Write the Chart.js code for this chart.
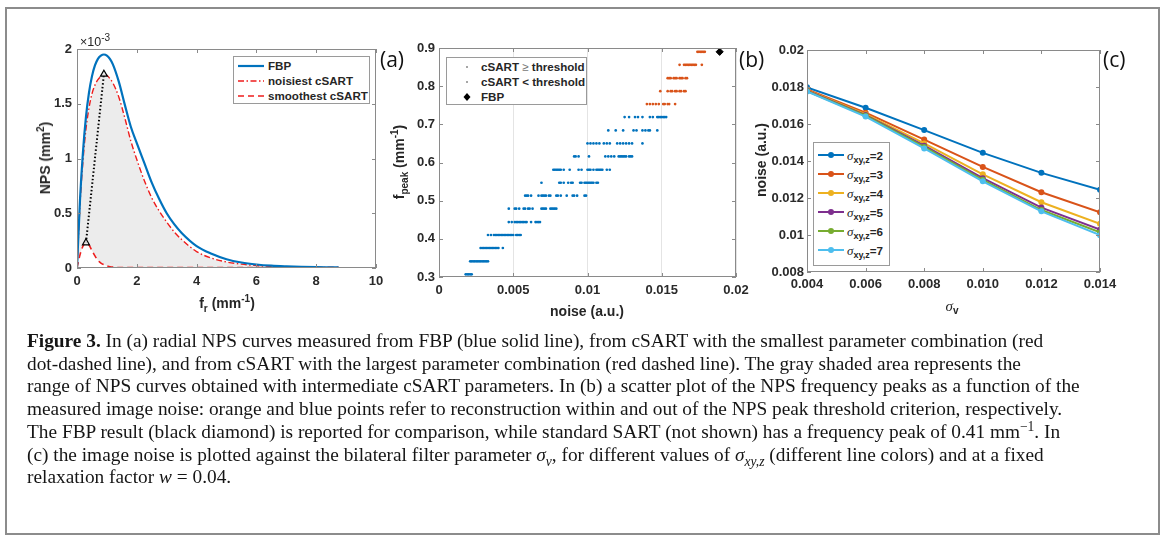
<!DOCTYPE html>
<html>
<head>
<meta charset="utf-8">
<script src="https://cdn.jsdelivr.net/npm/chart.js@4.4.1/dist/chart.umd.min.js"></script>
<style>
html,body{margin:0;padding:0;background:#fff;}
#wrap{position:relative;width:1169px;height:538px;overflow:hidden;background:#fff;}
canvas{position:absolute;left:0;top:0;}
#frame{position:absolute;left:5px;top:7px;width:1155px;height:528px;border:2px solid #8c8c8c;box-sizing:border-box;}
.ax{position:absolute;font-family:"Liberation Sans",Arial,sans-serif;font-weight:bold;font-size:14px;color:#262626;white-space:nowrap;transform:translate(-50%,-50%);line-height:1;}
.ax.rot{transform:translate(-50%,-50%) rotate(-90deg);}
.ax sub,.ax sup{font-size:10px;line-height:0;}
.sig{font-family:"Liberation Serif","Times New Roman",serif;font-style:italic;font-weight:normal;}
.plab{position:absolute;font-family:"Open Sans",sans-serif;font-size:21px;color:#111;line-height:1;transform:translateY(-50%);}
.leg{position:absolute;background:#fff;border:1px solid #9a9a9a;box-sizing:border-box;}
.leg svg{position:absolute;left:0;top:0;}
.lt{position:absolute;font-family:"Liberation Sans",Arial,sans-serif;font-weight:bold;font-size:11.6px;color:#262626;white-space:nowrap;transform:translateY(-50%);line-height:1;}
.lt sub{font-size:9px;line-height:0;}
#cap{position:absolute;left:27px;top:330px;font-family:"Liberation Serif","Times New Roman",serif;font-size:17px;line-height:22.7px;color:#151515;white-space:nowrap;}
#cap i{font-style:italic;}
#cap sub,#cap sup{font-size:70%;line-height:0;}
#cap span{display:inline-block;}
</style>
</head>
<body>
<div id="wrap">
  <div id="frame"></div>
  <canvas id="ca" width="1169" height="538"></canvas>
  <canvas id="cb" width="1169" height="538"></canvas>
  <canvas id="cc" width="1169" height="538"></canvas>

  <div class="ax" style="left:95px;top:42px;font-weight:normal;font-size:12.5px;">×10<sup>-3</sup></div>
  <div class="ax rot" style="left:45px;top:158px;">NPS (mm<sup>2</sup>)</div>
  <div class="ax" style="left:227px;top:303px;">f<sub>r</sub> (mm<sup>-1</sup>)</div>
  <div class="ax rot" style="left:399px;top:162px;">f<sub>peak</sub> (mm<sup>-1</sup>)</div>
  <div class="ax" style="left:587px;top:311px;">noise (a.u.)</div>
  <div class="ax rot" style="left:761px;top:160px;">noise (a.u.)</div>
  <div class="ax" style="left:952px;top:306px;"><span class="sig" style="font-size:15px;">σ</span><sub>v</sub></div>

  <div class="plab" style="left:380px;top:59px;">(a)</div>
  <div class="plab" style="left:739px;top:59px;">(b)</div>
  <div class="plab" style="left:1103px;top:59px;">(c)</div>

  <div class="leg" id="legA" style="left:233px;top:56px;width:137px;height:48px;"></div>
  <div class="leg" id="legB" style="left:446px;top:57px;width:141px;height:48px;"></div>
  <div class="leg" id="legC" style="left:813px;top:142px;width:77px;height:124px;"></div>

  <div id="cap">
    <div><span class="cl"><b>Figure 3.</b> In (a) radial NPS curves measured from FBP (blue solid line), from cSART with the smallest parameter combination (red</span></div>
    <div><span class="cl">dot-dashed line), and from cSART with the largest parameter combination (red dashed line). The gray shaded area represents the</span></div>
    <div><span class="cl">range of NPS curves obtained with intermediate cSART parameters. In (b) a scatter plot of the NPS frequency peaks as a function of the</span></div>
    <div><span class="cl">measured image noise: orange and blue points refer to reconstruction within and out of the NPS peak threshold criterion, respectively.</span></div>
    <div><span class="cl">The FBP result (black diamond) is reported for comparison, while standard SART (not shown) has a frequency peak of 0.41 mm<sup>−1</sup>. In</span></div>
    <div><span class="cl">(c) the image noise is plotted against the bilateral filter parameter <i>σ<sub>v</sub></i>, for different values of <i>σ<sub>xy,z</sub></i> (different line colors) and at a fixed</span></div>
    <div><span class="cl">relaxation factor <i>w</i> = 0.04.</span></div>
  </div>
</div>
<script>
// ---------------- DATA ----------------
// (a) radial NPS curves (NPS in units of 1e-3 mm^2)
const freqR = [0,0.1,0.2,0.3,0.4,0.5,0.6,0.7,0.8,0.9,1.0,1.1,1.2,1.4,1.6,1.8,2.0,2.25,2.5,2.75,3.0,3.25,3.5,4.0,4.5,5.0,5.5,6.0,6.5,7.0,7.5,8.0,8.5,8.75];
const npsFBP = [0,0.62,1.06,1.38,1.6,1.75,1.85,1.91,1.94,1.95,1.94,1.91,1.86,1.7,1.49,1.29,1.14,0.96,0.78,0.63,0.5,0.4,0.32,0.2,0.13,0.08,0.05,0.032,0.021,0.015,0.011,0.008,0.006,0.005];
const npsNoisiest = [0,0.58,0.98,1.27,1.46,1.59,1.67,1.72,1.75,1.77,1.76,1.73,1.69,1.56,1.37,1.16,0.99,0.8,0.64,0.52,0.42,0.33,0.26,0.15,0.09,0.055,0.035,0.022,0.015,0.011,0.008,0.006,0.005,0.004];
const npsSmoothest = [0,0.12,0.2,0.23,0.21,0.16,0.11,0.07,0.045,0.03,0.02,0.012,0.008,0.004,0.003,0.003,0.003,0.003,0.003,0.003,0.003,0.003,0.003,0.003,0.003,0.003,0.003,0.003,0.003,0.003,0.003,0.003,0.003,0.003];
const peakArrowF = [0.3, 0.9];
const peakArrowNPS = [0.23, 1.77];
const seriesNamesA = ['FBP','noisiest cSART','smoothest cSART'];
const ticksA_x = [0,2,4,6,8,10];
const ticksA_y = [0,0.5,1,1.5,2];

// (b) NPS frequency peak vs noise
const peakRowsBlue = [0.307,0.341,0.376,0.410,0.444,0.479,0.513,0.547,0.581,0.616,0.650,0.684,0.719];
const noiseRowsBlue = [
  [0.0018,0.0019,0.0020,0.0021,0.0022],
  [0.0021,0.0022,0.0023,0.0024,0.0025,0.0026,0.0027,0.0028,0.0029,0.0030,0.0031,0.0032,0.0033],
  [0.0028,0.0029,0.0030,0.0031,0.0032,0.0033,0.0034,0.0035,0.0036,0.0037,0.0038,0.0039,0.0040,0.0043],
  [0.0033,0.0035,0.0037,0.0038,0.0039,0.0040,0.0041,0.0042,0.0043,0.0044,0.0045,0.0046,0.0047,0.0048,0.0049,0.0050,0.0052,0.0053,0.0054,0.0055],
  [0.0047,0.0049,0.0051,0.0052,0.0053,0.0054,0.0055,0.0056,0.0057,0.0058,0.0059,0.0062,0.0065,0.0066,0.0067,0.0068],
  [0.0047,0.0051,0.0052,0.0054,0.0057,0.0058,0.0060,0.0061,0.0063,0.0069,0.0070,0.0071,0.0072,0.0075,0.0076,0.0077,0.0078,0.0079],
  [0.0058,0.0059,0.0060,0.0062,0.0067,0.0069,0.0070,0.0071,0.0072,0.0074,0.0075,0.0079,0.0080,0.0082,0.0086,0.0090,0.0091,0.0093,0.0098,0.0099],
  [0.0069,0.0081,0.0082,0.0084,0.0087,0.0089,0.0090,0.0095,0.0096,0.0098,0.0099,0.0100,0.0101,0.0102,0.0103,0.0104,0.0106,0.0107],
  [0.0077,0.0078,0.0079,0.0080,0.0081,0.0082,0.0084,0.0088,0.0094,0.0096,0.0100,0.0101,0.0102,0.0104,0.0106,0.0107,0.0108,0.0109,0.0110,0.0113,0.0115],
  [0.0091,0.0092,0.0094,0.0101,0.0112,0.0114,0.0116,0.0118,0.0121,0.0122,0.0123,0.0124,0.0125,0.0126,0.0128,0.0129,0.0130],
  [0.0100,0.0102,0.0104,0.0106,0.0108,0.0111,0.0113,0.0115,0.0120,0.0122,0.0124,0.0126,0.0128,0.0130,0.0137],
  [0.0114,0.0119,0.0124,0.0131,0.0133,0.0137,0.0139,0.0141,0.0142,0.0147],
  [0.0125,0.0128,0.0132,0.0134,0.0137,0.0142,0.0144,0.0147,0.0148,0.0149,0.0150,0.0151,0.0152,0.0153]
];
const peakRowsOrange = [0.753,0.787,0.821,0.856,0.890];
const noiseRowsOrange = [
  [0.0140,0.0142,0.0144,0.0146,0.0148,0.0151,0.0152,0.0154,0.0155,0.0159],
  [0.0149,0.0154,0.0156,0.0157,0.0159,0.0160,0.0162,0.0163,0.0165,0.0166],
  [0.0154,0.0155,0.0156,0.0158,0.0159,0.0160,0.0162,0.0163,0.0164,0.0166,0.0167],
  [0.0162,0.0165,0.0166,0.0167,0.0168,0.0169,0.0170,0.0171,0.0172,0.0173,0.0177],
  [0.0174,0.0175,0.0176,0.0177,0.0178,0.0179]
];
const fbpNoise = [0.0189];
const fbpPeak = [0.890];
const seriesNamesB = ['cSART ≥ threshold','cSART < threshold','FBP'];
const ticksB_x = [0,0.005,0.01,0.015,0.02];
const ticksB_y = [0.3,0.4,0.5,0.6,0.7,0.8,0.9];

// (c) noise vs sigma_v for sigma_xy,z = 2..7
const sigmaV = [0.004,0.006,0.008,0.010,0.012,0.014];
const sigmaXYZ = [2,3,4,5,6,7];
const noiseS2 = [0.01798,0.01688,0.01567,0.01444,0.01336,0.01245];
const noiseS3 = [0.01787,0.01661,0.01516,0.01368,0.01231,0.01123];
const noiseS4 = [0.01783,0.01653,0.01495,0.01328,0.01177,0.01061];
const noiseS5 = [0.01780,0.01648,0.01483,0.01307,0.01148,0.01029];
const noiseS6 = [0.01778,0.01645,0.01476,0.01298,0.01135,0.01014];
const noiseS7 = [0.01776,0.01640,0.01468,0.01290,0.01128,0.00999];
const ticksC_x = [0.004,0.006,0.008,0.010,0.012,0.014];
const ticksC_y = [0.008,0.01,0.012,0.014,0.016,0.018,0.02];

// ---------------- STYLE ----------------
const BLUE='#0072BD', ORANGE='#D95319', RED='#ee1c1c';
const lineColorsC = ['#0072BD','#D95319','#EDB120','#7E2F8E','#77AC30','#4DBEEE'];
const W=1169, H=538;
const tickFont = {family:'"Liberation Sans", Arial, sans-serif', size:13, weight:'bold'};

const boxPlugin = {
  id:'mbox',
  afterDraw(chart){
    const {ctx, chartArea:a, scales:{x,y}} = chart;
    ctx.save();
    ctx.strokeStyle='#8a8a8a'; ctx.lineWidth=1;
    ctx.strokeRect(Math.round(a.left)+0.5, Math.round(a.top)+0.5, Math.round(a.right-a.left)-1, Math.round(a.bottom-a.top)-1);
    const L=4;
    ctx.beginPath();
    x.ticks.forEach(t=>{const p=Math.round(x.getPixelForValue(t.value))+0.5; ctx.moveTo(p,a.bottom); ctx.lineTo(p,a.bottom-L); ctx.moveTo(p,a.top); ctx.lineTo(p,a.top+L);});
    y.ticks.forEach(t=>{const p=Math.round(y.getPixelForValue(t.value))+0.5; ctx.moveTo(a.left,p); ctx.lineTo(a.left+L,p); ctx.moveTo(a.right,p); ctx.lineTo(a.right-L,p);});
    ctx.stroke();
    ctx.restore();
  }
};

function fitter(size,isX){
  return function(s){ if(isX) s.height=size; else s.width=size; s.paddingLeft=0; s.paddingRight=0; s.paddingTop=0; s.paddingBottom=0; };
}
function numFmt(d){ return v => (d===undefined ? String(+(+v).toFixed(4)) : (+v).toFixed(d)); }
function scale(min,max,ticks,isX,size,pad,fmt,grid){
  return {
    type:'linear', min, max,
    afterBuildTicks: s => { s.ticks = ticks.map(v=>({value:v})); },
    afterFit: fitter(size,isX),
    border:{display:false},
    grid: grid ? {display:true, drawTicks:false, color:'#e4e4e4', lineWidth:1} : {display:false, drawTicks:false},
    ticks:{font:tickFont, color:'#2a2a2a', padding:pad, maxRotation:0, autoSkip:false, callback: fmt}
  };
}
function padFor(area,yW,xH){
  return {left:area.l-yW, top:area.t, right:W-area.r, bottom:H-area.b-xH};
}
const xy = (xs,ys)=>xs.map((x,i)=>({x,y:ys[i]}));
const baseOpts = {responsive:false, animation:false, devicePixelRatio:1, events:[],
  plugins:{legend:{display:false}, tooltip:{enabled:false}, filler:{drawTime:'beforeDatasetsDraw'}}};

// ---------------- PANEL A ----------------
const areaA={l:77,r:376,t:49,b:268};
new Chart(document.getElementById('ca'),{
  type:'line',
  data:{datasets:[
    {label:'peak shift', data:xy(peakArrowF,peakArrowNPS), borderColor:'#000', borderWidth:2, borderDash:[1.5,2.2],
     pointStyle:'triangle', pointRadius:4, pointBorderColor:'#000', pointBorderWidth:1.2, pointBackgroundColor:'rgba(230,230,230,0.9)', fill:false},
    {label:seriesNamesA[0], data:xy(freqR,npsFBP), borderColor:BLUE, borderWidth:2.2, pointRadius:0, cubicInterpolationMode:'monotone', fill:false},
    {label:seriesNamesA[1], data:xy(freqR,npsNoisiest), borderColor:RED, borderWidth:1.4, borderDash:[6,2.5,1.5,2.5], pointRadius:0, cubicInterpolationMode:'monotone', fill:'+1', backgroundColor:'#ececec'},
    {label:seriesNamesA[2], data:xy(freqR,npsSmoothest), borderColor:RED, borderWidth:1.6, borderDash:[6,4], pointRadius:0, cubicInterpolationMode:'monotone', fill:false}
  ]},
  options:Object.assign({}, baseOpts, {
    layout:{padding:padFor(areaA,40,40)},
    scales:{
      x: scale(0,10,ticksA_x,true,40,6,numFmt()),
      y: scale(0,2,ticksA_y,false,40,5,numFmt())
    }
  }),
  plugins:[boxPlugin]
});

// ---------------- PANEL B ----------------
const areaB={l:439,r:736,t:48,b:277};
const bluePts=[]; peakRowsBlue.forEach((f,i)=>noiseRowsBlue[i].forEach(n=>bluePts.push({x:n,y:f})));
const orangePts=[]; peakRowsOrange.forEach((f,i)=>noiseRowsOrange[i].forEach(n=>orangePts.push({x:n,y:f})));
new Chart(document.getElementById('cb'),{
  type:'scatter',
  data:{datasets:[
    {label:seriesNamesB[2], data:xy(fbpNoise,fbpPeak), pointStyle:'rectRot', pointRadius:3.6, backgroundColor:'#000', borderColor:'#000'},
    {label:seriesNamesB[0], data:orangePts, pointStyle:'circle', pointRadius:1.35, backgroundColor:ORANGE, borderColor:ORANGE, borderWidth:0},
    {label:seriesNamesB[1], data:bluePts, pointStyle:'circle', pointRadius:1.35, backgroundColor:BLUE, borderColor:BLUE, borderWidth:0}
  ]},
  options:Object.assign({}, baseOpts, {
    layout:{padding:padFor(areaB,40,40)},
    scales:{
      x: scale(0,0.02,ticksB_x,true,40,6,numFmt(),true),
      y: scale(0.3,0.9,ticksB_y,false,40,4,numFmt())
    }
  }),
  plugins:[boxPlugin]
});

// ---------------- PANEL C ----------------
const areaC={l:807,r:1100,t:50,b:272};
const seriesC=[noiseS2,noiseS3,noiseS4,noiseS5,noiseS6,noiseS7];
new Chart(document.getElementById('cc'),{
  type:'line',
  data:{datasets: seriesC.map((s,i)=>({label:'σxy,z='+sigmaXYZ[i], data:xy(sigmaV,s), borderColor:lineColorsC[i], backgroundColor:lineColorsC[i],
     borderWidth:2, pointRadius:3, pointStyle:'circle', pointBorderWidth:0, tension:0, fill:false})).reverse()},
  options:Object.assign({}, baseOpts, {
    layout:{padding:padFor(areaC,40,40)},
    scales:{
      x: scale(0.004,0.014,ticksC_x,true,40,5,numFmt(3)),
      y: scale(0.008,0.02,ticksC_y,false,40,3,numFmt())
    }
  }),
  plugins:[boxPlugin]
});

// ---------------- LEGENDS ----------------
(function(){
  const a=document.getElementById('legA');
  const ys=[9,24,39];
  const dashes=['', '6,2.5,1.5,2.5', '6,4'];
  const cols=[BLUE,RED,RED];
  let svg='<svg width="137" height="48">';
  ys.forEach((y,i)=>{svg+=`<line x1="4" y1="${y}" x2="30" y2="${y}" stroke="${cols[i]}" stroke-width="${i===0?2.2:1.6}" ${dashes[i]?`stroke-dasharray="${dashes[i]}"`:''}/>`;});
  svg+='</svg>';
  a.innerHTML=svg+seriesNamesA.map((n,i)=>`<div class="lt" style="left:34px;top:${ys[i]}px;">${n}</div>`).join('');

  const b=document.getElementById('legB');
  const yb=[9,24,39];
  let svgb='<svg width="141" height="48"><circle cx="20" cy="9" r="1" fill="#888"/><circle cx="20" cy="24" r="1" fill="#888"/><polygon points="20,35 23.5,39 20,43 16.5,39" fill="#000"/></svg>';
  b.innerHTML=svgb+seriesNamesB.map((n,i)=>`<div class="lt" style="left:34px;top:${yb[i]}px;">${n.replace('≥','<span style="color:#777;font-weight:normal">≥</span>')}</div>`).join('');

  const c=document.getElementById('legC');
  const yc=[12,31,50,69,88,107];
  let svgc='<svg width="77" height="124">';
  yc.forEach((y,i)=>{svgc+=`<line x1="4" y1="${y}" x2="30" y2="${y}" stroke="${lineColorsC[i]}" stroke-width="2"/><circle cx="17" cy="${y}" r="3" fill="${lineColorsC[i]}"/>`;});
  svgc+='</svg>';
  c.innerHTML=svgc+sigmaXYZ.map((s,i)=>`<div class="lt" style="left:33px;top:${yc[i]}px;"><span class="sig" style="font-size:13px;">σ</span><sub>xy,z</sub>=${s}</div>`).join('');
})();

// ---------------- CAPTION FIT ----------------
(function(){
  const lines=[...document.querySelectorAll('#cap .cl')];
  const targets=[1013,991,1045,1045,1045,1011];
  let ratio=0;
  [0,1,2,3,4,5].forEach(i=>{ratio+=targets[i]/lines[i].offsetWidth;});
  ratio/=6;
  const cap=document.getElementById('cap');
  cap.style.fontSize=(17*ratio).toFixed(2)+'px';
})();
</script>
</body>
</html>
